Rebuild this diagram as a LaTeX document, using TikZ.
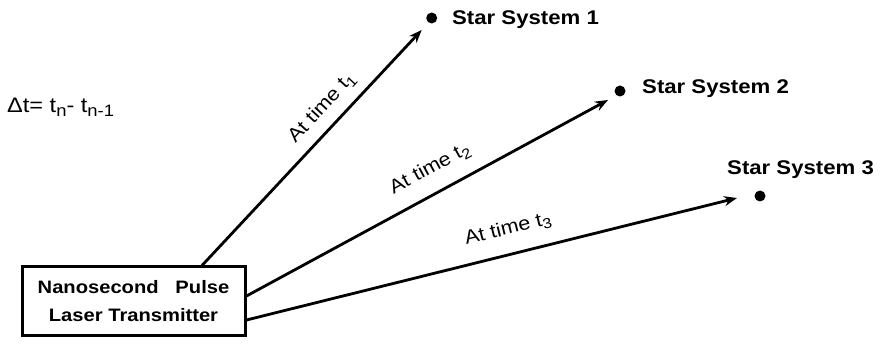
\documentclass[tikz,border=0pt]{standalone}
\usepackage{fontspec}
\setmainfont[FakeStretch=1.12]{Liberation Sans}
\usetikzlibrary{arrows.meta}
\newcommand\subsx[2][14.5]{\raisebox{-4pt}{\fontsize{#1}{#1}\selectfont #2}}
\begin{document}
\begin{tikzpicture}[x=1pt,y=1pt,
  lbl/.style={font=\fontsize{19.8}{22}\selectfont\bfseries, anchor=west, inner sep=0},
  tlbl/.style={font=\fontsize{19.3}{21}\selectfont, inner sep=0},
  ray/.style={line width=2.8pt, -{Stealth[length=13pt,width=10pt]}},
  dot/.style={circle, fill=black, minimum size=11pt, inner sep=0}]
\useasboundingbox (0,0) rectangle (885,347);
\node[draw, line width=3pt, minimum width=223pt, minimum height=69pt, inner sep=0,
  align=center, font=\fontsize{18}{28}\selectfont\bfseries] (tx) at (133.5,45.5)
  {Nanosecond\ \ \ Pulse\\Laser Transmitter};
\node[dot] (d1) at (431.7,329) {};
\node[dot] (d2) at (620,256) {};
\node[dot] (d3) at (760,151) {};
\node[lbl] (n1) at (452,327) {Star System 1};
\node[lbl] (n2) at (642,258) {Star System 2};
\node[lbl] (n3) at (727,177) {Star System 3};
\coordinate (e1) at (421.7,317);
\coordinate (e2) at (608,247);
\coordinate (e3) at (737,149);
\draw[ray] ([xshift=68.5pt]tx.north) -- (e1);
\draw[ray] ([yshift=5.5pt]tx.east) -- (e2);
\draw[ray] ([yshift=-18.5pt]tx.east) -- (e3);
\node[tlbl, rotate=47.3] (l1) at (322,239) {At time t\subsx{1}};
\node[tlbl, rotate=28.4] (l2) at (430,178) {At time t\subsx{2}};
\node[tlbl, rotate=13.9] (l3) at (508,117.5) {At time t\subsx{3}};
\node[font=\fontsize{21}{22}\selectfont, inner sep=0, anchor=base west] (dt) at (7,234)
  {Δt= t\subsx[16.5]{n}- t\subsx[16.5]{n-1}};
\end{tikzpicture}
\end{document}
